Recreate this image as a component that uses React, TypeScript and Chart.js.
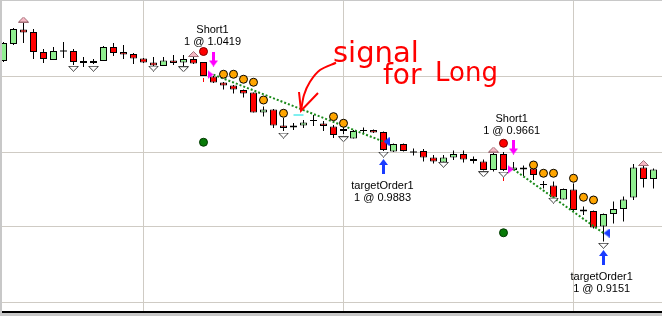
import React, { useEffect, useRef } from 'react';
import { Chart, registerables } from 'chart.js';
Chart.register(...registerables);

// ---- candle data (bar index, OHLC prices) ----
const bars = Array.from({ length: 66 }, (_, i) => i);
const opens = [
  1.0528, 1.0664, 1.0780, 1.0760, 1.0600, 1.0536, 1.0608, 1.0608, 1.0524, 1.0512,
  1.0528, 1.0640, 1.0600, 1.0584, 1.0548, 1.0516, 1.0488, 1.0532, 1.0516, 1.0544,
  1.0520, 1.0404, 1.0356, 1.0332, 1.0296, 1.0276, 1.0116, 1.0140, 1.0012, 0.9996,
  1.0012, 1.0052, 1.0028, 1.0004, 0.9984, 0.9908, 0.9972, 0.9976, 0.9960, 0.9804,
  0.9864, 0.9800, 0.9808, 0.9756, 0.9716, 0.9756, 0.9784, 0.9744, 0.9724, 0.9656,
  0.9784, 0.9656, 0.9676, 0.9668, 0.9540, 0.9532, 0.9420, 0.9500, 0.9340, 0.9328,
  0.9204, 0.9304, 0.9344, 0.9436, 0.9676, 0.9584,
];
const highs = [
  1.0680, 1.0792, 1.0832, 1.0784, 1.0624, 1.0640, 1.0680, 1.0624, 1.0560, 1.0544,
  1.0648, 1.0672, 1.0656, 1.0592, 1.0552, 1.0560, 1.0560, 1.0576, 1.0576, 1.0564,
  1.0520, 1.0408, 1.0360, 1.0336, 1.0300, 1.0276, 1.0164, 1.0144, 1.0072, 1.0032,
  1.0056, 1.0096, 1.0048, 1.0016, 1.0000, 0.9976, 0.9996, 0.9980, 0.9964, 0.9868,
  0.9868, 0.9828, 0.9824, 0.9776, 0.9776, 0.9812, 0.9812, 0.9764, 0.9740, 0.9800,
  0.9800, 0.9720, 0.9692, 0.9684, 0.9568, 0.9564, 0.9508, 0.9548, 0.9364, 0.9332,
  0.9308, 0.9404, 0.9444, 0.9704, 0.9696, 0.9668,
];
const lows = [
  1.0520, 1.0656, 1.0672, 1.0544, 1.0512, 1.0536, 1.0552, 1.0496, 1.0480, 1.0504,
  1.0528, 1.0568, 1.0544, 1.0504, 1.0512, 1.0488, 1.0488, 1.0496, 1.0484, 1.0504,
  1.0408, 1.0352, 1.0300, 1.0268, 1.0236, 1.0116, 1.0084, 0.9992, 0.9968, 0.9976,
  0.9992, 1.0008, 0.9968, 0.9912, 0.9944, 0.9908, 0.9948, 0.9952, 0.9808, 0.9800,
  0.9804, 0.9772, 0.9724, 0.9708, 0.9716, 0.9736, 0.9716, 0.9708, 0.9652, 0.9644,
  0.9648, 0.9656, 0.9608, 0.9576, 0.9508, 0.9432, 0.9420, 0.9324, 0.9296, 0.9188,
  0.9084, 0.9228, 0.9244, 0.9416, 0.9516, 0.9508,
];
const closes = [
  1.0672, 1.0784, 1.0756, 1.0600, 1.0544, 1.0608, 1.0608, 1.0520, 1.0516, 1.0528,
  1.0640, 1.0592, 1.0580, 1.0548, 1.0516, 1.0492, 1.0532, 1.0512, 1.0544, 1.0508,
  1.0408, 1.0356, 1.0332, 1.0300, 1.0268, 1.0116, 1.0140, 1.0012, 0.9992, 1.0012,
  1.0036, 1.0052, 1.0008, 0.9936, 0.9968, 0.9968, 0.9972, 0.9956, 0.9816, 0.9864,
  0.9808, 0.9800, 0.9756, 0.9724, 0.9756, 0.9784, 0.9740, 0.9728, 0.9656, 0.9784,
  0.9656, 0.9676, 0.9660, 0.9616, 0.9540, 0.9436, 0.9504, 0.9336, 0.9324, 0.9196,
  0.9304, 0.9344, 0.9420, 0.9676, 0.9584, 0.9660,
];

// ---- indicator / signal markers ----
const upTriBars = [2, 19, 49, 64];
const upTriPrices = [1.0860, 1.0584, 0.9820, 0.9712];
const downTriBars = [7, 9, 15, 18, 28, 34, 38, 44, 48, 50, 55, 60];
const downTriPrices = [1.0466, 1.0466, 1.0468, 1.0462, 0.9932, 0.9902, 0.9780, 0.9698, 0.9622, 0.9620, 0.9412, 0.9050];
const orangeBars = [22, 23, 24, 25, 26, 28, 33, 34, 53, 54, 55, 57, 58, 59];
const orangePrices = [1.0422, 1.0422, 1.0382, 1.0358, 1.0216, 1.0110, 1.0083, 1.0030, 0.9696, 0.9630, 0.9630, 0.9590, 0.9438, 0.9416];
const redDotBars = [20, 50];
const redDotPrices = [1.0604, 0.9870];
const greenDotBars = [20, 50];
const greenDotPrices = [0.9878, 0.9154];
const stopBars = [20, 50];
const stopTop = [1.0392, 0.9600];
const stopBottom = [1.0360, 0.9568];
const signalBars = [29, 30];
const signalPrice = 1.0096;

// ---- trades ----
const entryBars = [21, 51];
const entryPrices = [1.0419, 0.9661];
const exitBars = [38, 60];
const exitPrices = [0.9883, 0.9151];
const shortArrowPrices = [1.0544, 0.9840];
const targetArrowPrices = [0.9684, 0.8956];
const tradeLabelNames = ['Short1', 'Short1', 'targetOrder1', 'targetOrder1'];
const tradeLabelBars = [20.9, 50.82, 37.9, 59.82];
const tradeLabelPrices = [1.0776, 1.0064, 0.9528, 0.8804];
const tradeLabelFills = [1.0419, 0.9661, 0.9883, 0.9151];

// ---- hand-drawn note ----
const noteTexts = ['signal', 'for', 'Long'];
const noteBars = [32.95, 37.95, 43.15];
const notePrices = [1.0520, 1.0344, 1.0368];
const noteSizes = [29, 28, 26];
const noteArrowBars = [33.25, 31.65, 30.65, 30.05, 29.75];
const noteArrowPrices = [1.0514, 1.0456, 1.0362, 1.0256, 1.0130];
const noteHeadBars = [29.55, 29.75, 31.45];
const noteHeadPrices = [1.0280, 1.0130, 1.0272];

// ---- grid ----
const xGridBars = [14, 34, 57];
const yGridPrices = [1.04, 0.98, 0.92, 0.86];

function makeMarker(w: number, h: number, draw: (g: CanvasRenderingContext2D) => void) {
  const c = document.createElement('canvas');
  c.width = w;
  c.height = h;
  const g = c.getContext('2d') as CanvasRenderingContext2D;
  draw(g);
  return c;
}

export default function App() {
  const ref = useRef<HTMLCanvasElement | null>(null);

  useEffect(() => {
    if (!ref.current) return;

    const upTri = makeMarker(11, 6, (g) => {
      g.beginPath();
      g.moveTo(0.5, 5.5); g.lineTo(5.5, 0.5); g.lineTo(10.5, 5.5); g.closePath();
      g.fillStyle = '#f6b8c4'; g.fill();
      g.strokeStyle = '#a07078'; g.lineWidth = 1; g.stroke();
    });
    const downTri = makeMarker(11, 6, (g) => {
      g.beginPath();
      g.moveTo(0.5, 0.5); g.lineTo(10.5, 0.5); g.lineTo(5.5, 5.5); g.closePath();
      g.fillStyle = '#ffffff'; g.fill();
      g.strokeStyle = '#404040'; g.lineWidth = 1; g.stroke();
    });
    const downArrow = makeMarker(9, 15, (g) => {
      g.beginPath();
      g.moveTo(3, 0); g.lineTo(6, 0); g.lineTo(6, 9); g.lineTo(9, 9); g.lineTo(4.5, 15);
      g.lineTo(0, 9); g.lineTo(3, 9); g.closePath();
      g.fillStyle = '#ff00ff'; g.fill();
    });
    const upArrow = makeMarker(9, 15, (g) => {
      g.beginPath();
      g.moveTo(3, 15); g.lineTo(6, 15); g.lineTo(6, 6); g.lineTo(9, 6); g.lineTo(4.5, 0);
      g.lineTo(0, 6); g.lineTo(3, 6); g.closePath();
      g.fillStyle = '#1a3cff'; g.fill();
    });
    const rightTri = makeMarker(6, 9, (g) => {
      g.beginPath();
      g.moveTo(0, 0); g.lineTo(6, 4.5); g.lineTo(0, 9); g.closePath();
      g.fillStyle = '#ff00ff'; g.fill();
    });
    const leftTri = makeMarker(6, 9, (g) => {
      g.beginPath();
      g.moveTo(6, 0); g.lineTo(0, 4.5); g.lineTo(6, 9); g.closePath();
      g.fillStyle = '#1a3cff'; g.fill();
    });

    const isDoji = bars.map((i) => Math.abs(opens[i] - closes[i]) <= 0.0008);
    const bodyData = bars.map((i) => {
      const lo = Math.min(opens[i], closes[i]);
      const hi = Math.max(opens[i], closes[i]);
      return { x: i, y: isDoji[i] ? [lo - 0.0004, hi + 0.0004] : [lo, hi] };
    });
    const bodyColors = bars.map((i) => (isDoji[i] ? '#000000' : closes[i] > opens[i] ? '#90ee90' : '#ff0000'));
    const bodyBorders = bars.map((i) => (isDoji[i] ? 0 : 1));

    const pts = (bs: number[], ps: number[]) => bs.map((b, k) => ({ x: b, y: ps[k] }));

    const markerDs = (data: any[], style: any, order: number) => ({
      type: 'line' as const,
      data,
      showLine: false,
      pointStyle: style,
      pointRadius: 5,
      order,
    });
    const circleDs = (data: any[], fill: string, border: string, order: number) => ({
      type: 'line' as const,
      data,
      showLine: false,
      pointStyle: 'circle',
      pointRadius: 4,
      pointBorderWidth: 1,
      pointBackgroundColor: fill,
      pointBorderColor: border,
      order,
    });
    const lineDs = (data: any[], color: string, width: number, dash: number[], order: number, tension = 0) => ({
      type: 'line' as const,
      data,
      borderColor: color,
      borderWidth: width,
      borderDash: dash,
      pointRadius: 0,
      fill: false,
      tension,
      order,
    });

    const overlay = {
      id: 'overlay',
      beforeDraw(chart: any) {
        const { ctx, chartArea: a, width, height } = chart;
        const xs = chart.scales.x;
        const ys = chart.scales.y;
        ctx.save();
        ctx.fillStyle = '#c8c8c8';
        ctx.fillRect(0, 0, width, height);
        ctx.fillStyle = '#ffffff';
        ctx.fillRect(a.left, a.top, a.right - a.left, a.bottom - a.top);
        ctx.fillStyle = '#cfcbc4';
        xGridBars.forEach((v) => {
          const px = Math.floor(xs.getPixelForValue(v));
          ctx.fillRect(px, a.top, 1, a.bottom - a.top);
        });
        yGridPrices.forEach((v) => {
          const py = Math.floor(ys.getPixelForValue(v));
          ctx.fillRect(a.left, py, a.right - a.left, 1);
        });
        ctx.restore();
      },
      afterDraw(chart: any) {
        const { ctx, chartArea: a } = chart;
        const xs = chart.scales.x;
        const ys = chart.scales.y;
        ctx.save();
        ctx.fillStyle = '#000000';
        ctx.fillRect(a.left, a.bottom, a.right - a.left, 2);
        ctx.font = '11px "Liberation Sans", Arial, sans-serif';
        ctx.textAlign = 'center';
        ctx.textBaseline = 'middle';
        tradeLabelNames.forEach((name, k) => {
          const px = xs.getPixelForValue(tradeLabelBars[k]);
          const py = ys.getPixelForValue(tradeLabelPrices[k]);
          ctx.fillText(name, px, py);
          ctx.fillText('1 @ ' + tradeLabelFills[k].toFixed(4), px, py + 12);
        });
        ctx.fillStyle = '#ff0000';
        ctx.textAlign = 'left';
        ctx.textBaseline = 'alphabetic';
        noteTexts.forEach((t, k) => {
          ctx.font = noteSizes[k] + 'px "DejaVu Sans", sans-serif';
          ctx.fillText(t, xs.getPixelForValue(noteBars[k]), ys.getPixelForValue(notePrices[k]));
        });
        ctx.restore();
      },
    };

    const chart = new Chart(ref.current, {
      type: 'bar',
      data: {
        datasets: [
          {
            type: 'bar',
            data: bars.map((i) => ({ x: i, y: [lows[i], highs[i]] })),
            backgroundColor: '#000000',
            borderWidth: 0,
            grouped: false,
            barPercentage: 1,
            categoryPercentage: 1,
            maxBarThickness: 1,
            inflateAmount: 0,
            clip: 0,
            order: 20,
          } as any,
          {
            type: 'bar',
            data: bodyData,
            backgroundColor: bodyColors,
            borderColor: '#000000',
            borderWidth: bodyBorders,
            borderSkipped: false,
            grouped: false,
            barPercentage: 1,
            categoryPercentage: 1,
            maxBarThickness: 7,
            inflateAmount: 0,
            clip: 0,
            order: 19,
          } as any,
          {
            type: 'bar',
            data: stopBars.map((b, k) => ({ x: b, y: [stopBottom[k], stopTop[k]] })),
            backgroundColor: '#ff0000',
            borderWidth: 0,
            grouped: false,
            barPercentage: 1,
            categoryPercentage: 1,
            maxBarThickness: 1,
            inflateAmount: 0,
            order: 18,
          } as any,
          lineDs(signalBars.map((b) => ({ x: b, y: signalPrice })), '#00e0e0', 1, [], 17),
          lineDs(pts([entryBars[0], exitBars[0]], [entryPrices[0], exitPrices[0]]), '#1a8a1a', 2, [2, 2], 12),
          lineDs(pts([entryBars[1], exitBars[1]], [entryPrices[1], exitPrices[1]]), '#1a8a1a', 2, [2, 2], 12),
          circleDs(pts(orangeBars, orangePrices), '#ffa500', '#000000', 10),
          circleDs(pts(redDotBars, redDotPrices), '#ff0000', '#800000', 10),
          circleDs(pts(greenDotBars, greenDotPrices), '#087a08', '#003800', 10),
          markerDs(pts(upTriBars, upTriPrices), upTri, 9),
          markerDs(pts(downTriBars, downTriPrices), downTri, 9),
          markerDs(pts(entryBars, shortArrowPrices), downArrow, 8),
          markerDs(pts(exitBars, targetArrowPrices), upArrow, 8),
          markerDs(pts(entryBars.map((b) => b - 0.3), entryPrices), rightTri, 7),
          markerDs(pts(exitBars.map((b) => b + 0.3), exitPrices), leftTri, 7),
          lineDs(pts(noteArrowBars, noteArrowPrices), '#ff0000', 2, [], 3, 0.3),
          lineDs(pts(noteHeadBars, noteHeadPrices), '#ff0000', 2, [], 3),
        ] as any,
      },
      options: {
        animation: false,
        responsive: false,
        devicePixelRatio: 1,
        events: [],
        layout: { autoPadding: false, padding: { left: 2, top: 1, right: 0, bottom: 5 } },
        plugins: { legend: { display: false }, tooltip: { enabled: false } },
        scales: {
          x: { type: 'linear', min: -0.15, max: 65.85, offset: false, display: false },
          y: { type: 'linear', min: 0.8528, max: 1.1008, display: false },
        },
      } as any,
      plugins: [overlay],
    });

    return () => chart.destroy();
  }, []);

  return (
    <div style={{ position: 'absolute', left: 0, top: 0, width: 662, height: 316 }}>
      <canvas ref={ref} width={662} height={316} style={{ display: 'block', width: 662, height: 316 }} />
    </div>
  );
}
